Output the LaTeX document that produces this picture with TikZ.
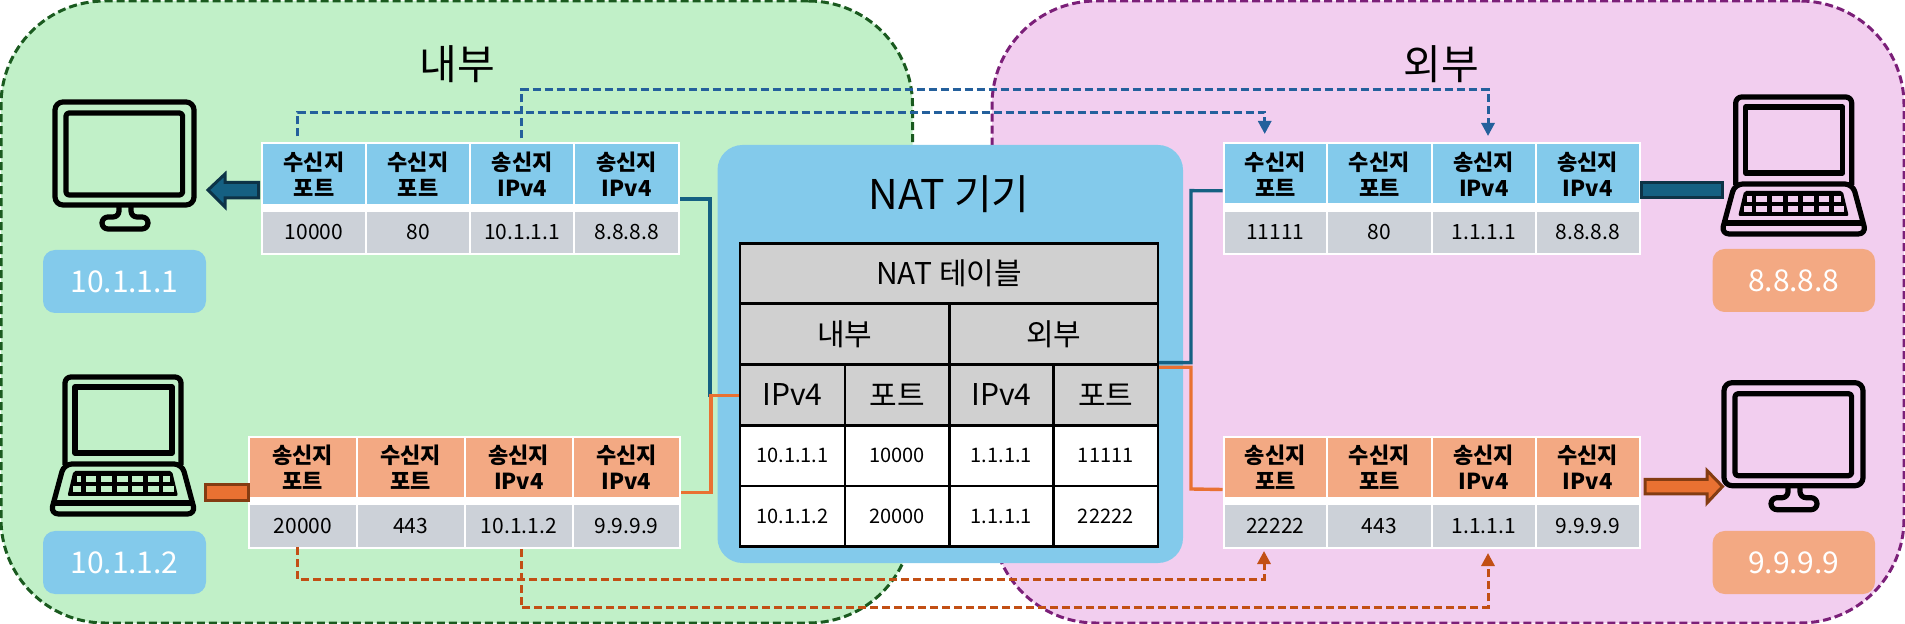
\documentclass[tikz,border=0pt]{standalone}
\usepackage{fontspec}
\setmainfont{Noto Sans CJK KR}
\usetikzlibrary{arrows.meta,calc}
\setlength\lineskiplimit{-20pt}
\definecolor{regGreen}{HTML}{C1F0C8}
\definecolor{regGreenLine}{HTML}{1A5A1F}
\definecolor{regPink}{HTML}{F2CEEF}
\definecolor{regPinkLine}{HTML}{7B1F78}
\definecolor{skyFill}{HTML}{83CAEB}
\definecolor{peachFill}{HTML}{F3A983}
\definecolor{cellGray}{HTML}{CCD1D8}
\definecolor{natGray}{HTML}{D0D0D0}
\definecolor{barBlue}{HTML}{156082}
\definecolor{barBlueLine}{HTML}{0D3347}
\definecolor{barOrange}{HTML}{E97132}
\definecolor{barOrangeLine}{HTML}{843C12}
\definecolor{dashBlue}{HTML}{24609C}
\definecolor{dashOrange}{HTML}{C24F14}
\tikzset{
  x=0.5pt,y=-0.5pt,
  box/.style={inner sep=0pt,outer sep=0pt,align=center},
  region/.style={box,line width=1.5pt,dash pattern=on 4pt off 2pt,rounded corners=52pt},
  title/.style={font=\fontsize{20.5}{24}\selectfont},
  ipbox/.style={box,rounded corners=6pt,text=white,font=\fontsize{15}{18}\selectfont},
  hcell/.style={box,draw=white,line width=1pt,font=\fontsize{11}{13}\bfseries\selectfont},
  gcell/.style={box,draw=white,line width=1pt,fill=cellGray,font=\fontsize{10.5}{12}\selectfont},
  back/.style={box,fill=white},
  ncell/.style={box,draw=black,line width=1.25pt,fill=natGray,font=\fontsize{15}{16}\selectfont},
  dcell/.style={box,draw=black,line width=1.25pt,fill=white,font=\fontsize{10}{12}\selectfont},
  link/.style={line width=1.7pt,rounded corners=0pt},
  dashlink/.style={line width=1.5pt,dash pattern=on 4pt off 2pt,-{Triangle[length=6.5pt,width=6.5pt]}},
  blockarrow/.style={line width=1.5pt,line join=miter},
  iconline/.style={draw=black,line width=2.6pt,line join=round},
  monitoricon/.pic={
    \draw[iconline,rounded corners=4pt] (2,2) rectangle (141,105);
    \draw[iconline,rounded corners=1.5pt] (13,13) rectangle (129.6,95);
    \draw[iconline,rounded corners=3pt] (66,105)--(66,117)--(49,117)--(49,129)--(95,129)--(95,117)--(78,117)--(78,105);
  },
  laptopicon/.pic={
    \draw[iconline,rounded corners=3pt] (2,90)--(2,2)--(118,2)--(118,90);
    \draw[iconline] (12,12) rectangle (109,78);
    \draw[iconline,rounded corners=4pt] (1,89)--(119,89)--(132.5,139)--(-12.5,139)--cycle;
    \draw[iconline] (-9,128)--(129,128);
    \fill[black,rounded corners=1pt] (10.5,96)--(109,96)--(115,121)--(4.5,121)--cycle;
    \foreach \i in {1,...,5}{
      \fill[holefill] ({7+15.6*\i},101) rectangle ++(10.7,5.7);
      \fill[holefill] ({7+15.6*\i},111.5) rectangle ++(10.7,5.2);
    }
    \fill[holefill] (13.5,101) rectangle (18,106.7);
    \fill[holefill] (100,101) rectangle (107,106.7);
    \fill[holefill] (10,111.5) rectangle (18,116.7);
    \fill[holefill] (100,111.5) rectangle (110.5,116.7);
  }
}
\newcommand{\cellbox}[7][]{%
  \node[#2,#1,minimum width={((#5)-(#3))*0.5pt},minimum height={((#6)-(#4))*0.5pt}] (#7)
    at ({((#3)+(#5))/2},{((#4)+(#6))/2})}
\begin{document}
\begin{tikzpicture}
\useasboundingbox (0,0) rectangle (1905,624);
% regions
\cellbox[draw=regGreenLine,fill=regGreen]{region}{1}{1}{912.5}{623}{inside}{};
\cellbox[draw=regPinkLine,fill=regPink]{region}{992}{1}{1904}{623}{outside}{};
\node[box,title] (tin) at (457,64) {내부};
\node[box,title] (tout) at (1441,64) {외부};
% NAT device
\cellbox[fill=skyFill,rounded corners=12.5pt]{box}{717.5}{145}{1183}{563}{natbox}{};
\node[box,font=\fontsize{20.5}{24}\selectfont] (nattitle) at (949,194) {NAT 기기};
% packet tables
\cellbox{back}{261}{142.5}{680}{255}{ta}{};
\cellbox{back}{248}{435.7}{681}{549}{tb}{};
\cellbox{back}{1222.5}{142}{1640.5}{255}{tc}{};
\cellbox{back}{1222.5}{435.7}{1640.5}{549}{td}{};
\foreach \n/\a/\b/\t in {1/262/366/수신지\\포트,2/366/470/수신지\\포트,3/470/574.4/송신지\\IPv4,4/574.4/679/송신지\\IPv4}
  \cellbox[fill=skyFill]{hcell}{\a}{143.5}{\b}{205}{tah\n}{\t};
\foreach \n/\a/\b/\t in {1/262/366/10000,2/366/470/80,3/470/574.4/10.1.1.1,4/574.4/679/8.8.8.8}
  \cellbox{gcell}{\a}{210.7}{\b}{254}{tag\n}{\t};
\foreach \n/\a/\b/\t in {1/249/356.7/송신지\\포트,2/356.7/464.6/수신지\\포트,3/464.6/573/송신지\\IPv4,4/573/680/수신지\\IPv4}
  \cellbox[fill=peachFill]{hcell}{\a}{436.7}{\b}{498.3}{tbh\n}{\t};
\foreach \n/\a/\b/\t in {1/249/356.7/20000,2/356.7/464.6/443,3/464.6/573/10.1.1.2,4/573/680/9.9.9.9}
  \cellbox{gcell}{\a}{504}{\b}{548}{tbg\n}{\t};
\foreach \n/\a/\b/\t in {1/1223.5/1327/수신지\\포트,2/1327/1431.6/수신지\\포트,3/1431.6/1536/송신지\\IPv4,4/1536/1639.5/송신지\\IPv4}
  \cellbox[fill=skyFill]{hcell}{\a}{143}{\b}{204.5}{tch\n}{\t};
\foreach \n/\a/\b/\t in {1/1223.5/1327/11111,2/1327/1431.6/80,3/1431.6/1536/1.1.1.1,4/1536/1639.5/8.8.8.8}
  \cellbox{gcell}{\a}{210.7}{\b}{254}{tcg\n}{\t};
\foreach \n/\a/\b/\t in {1/1223.5/1327/송신지\\포트,2/1327/1431.5/수신지\\포트,3/1431.5/1536/송신지\\IPv4,4/1536/1639.5/수신지\\IPv4}
  \cellbox[fill=peachFill]{hcell}{\a}{436.7}{\b}{498.3}{tdh\n}{\t};
\foreach \n/\a/\b/\t in {1/1223.5/1327/22222,2/1327/1431.5/443,3/1431.5/1536/1.1.1.1,4/1536/1639.5/9.9.9.9}
  \cellbox{gcell}{\a}{504}{\b}{548}{tdg\n}{\t};
% solid connectors
\draw[link,draw=barBlue] ($(tah4.south east)+(1,-6)$) -| (710,395.7) -- (740,395.7);
\draw[link,draw=barOrange] ($(tbh4.south east)+(1,-6)$) -| (711,395.7) -- (740,395.7);
\draw[link,draw=barBlue] (1158,362.7) -| (1191,190.7) -- ($(tch1.west)+(-1,17)$);
\draw[link,draw=barOrange] (1158,367.3) -| (1191,489) -- ($(tdh1.west)+(-1,22)$);
% NAT table
\cellbox{ncell}{740}{243.3}{1158}{303.3}{ntitle}{NAT 테이블};
\cellbox{ncell}{740}{303.3}{949.3}{364.3}{nin}{내부};
\cellbox{ncell}{949.3}{303.3}{1158}{364.3}{nout}{외부};
\foreach \n/\a/\b/\t in {1/740/844.8/IPv4,2/844.8/949.3/포트,3/949.3/1053.4/IPv4,4/1053.4/1158/포트}
  \cellbox{ncell}{\a}{364.3}{\b}{425.3}{nh\n}{\t};
\foreach \n/\a/\b/\t in {1/740/844.8/10.1.1.1,2/844.8/949.3/10000,3/949.3/1053.4/1.1.1.1,4/1053.4/1158/11111}
  \cellbox{dcell}{\a}{425.3}{\b}{486}{na\n}{\t};
\foreach \n/\a/\b/\t in {1/740/844.8/10.1.1.2,2/844.8/949.3/20000,3/949.3/1053.4/1.1.1.1,4/1053.4/1158/22222}
  \cellbox{dcell}{\a}{486}{\b}{546.7}{nb\n}{\t};
% dashed connectors
\draw[dashlink,draw=dashBlue] ($(tah1.north west)+(35.5,-7)$) |- (1264.7,112.5) -- ($(tch1.north west)+(41.2,-9)$);
\draw[dashlink,draw=dashBlue] ($(tah3.north west)+(51,-5)$) |- (1488,90) -- ($(tch3.north west)+(56.4,-7)$);
\draw[dashlink,draw=dashOrange] ($(tbg1.south west)+(48.5,-1)$) |- (1264,579.3) -- ($(tdg1.south west)+(40.5,3)$);
\draw[dashlink,draw=dashOrange] ($(tbg3.south west)+(56.4,1)$) |- (1488,607.7) -- ($(tdg3.south west)+(56.5,5)$);
% block arrows
\draw[blockarrow,draw=barBlueLine,fill=barBlue] (258.5,182.5)--(225,182.5)--(225,174)--(208,190)--(225,207)--(225,198)--(258.5,198)--cycle;
\draw[blockarrow,draw=barBlueLine,fill=barBlue] (1641,183)--(1722,183)--(1722,198)--(1641,198)--cycle;
\draw[blockarrow,draw=barOrangeLine,fill=barOrange] (205.5,485)--(248,485)--(248,501)--(205.5,501)--cycle;
\draw[blockarrow,draw=barOrangeLine,fill=barOrange] (1645,479.5)--(1707,479.5)--(1707,470.5)--(1722.5,486.5)--(1707,503)--(1707,494)--(1645,494)--cycle;
% icons
\pic at (53,100) {monitoricon};
\pic at (1722,380.7) {monitoricon};
\colorlet{holefill}{regGreen}
\pic at (63,375) {laptopicon};
\colorlet{holefill}{regPink}
\pic at (1733.7,95) {laptopicon};
% address labels
\cellbox[fill=skyFill]{ipbox}{43}{250}{206}{313}{ipa}{10.1.1.1};
\cellbox[fill=skyFill]{ipbox}{43}{531}{206}{594}{ipb}{10.1.1.2};
\cellbox[fill=peachFill]{ipbox}{1712.6}{249}{1875}{312}{ipc}{8.8.8.8};
\cellbox[fill=peachFill]{ipbox}{1712.6}{531}{1875}{594}{ipd}{9.9.9.9};
\end{tikzpicture}
\end{document}
